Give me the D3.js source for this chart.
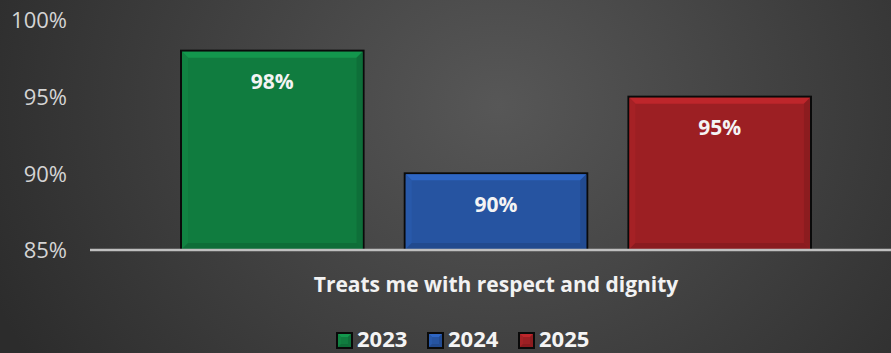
<!DOCTYPE html>
<html>
<head>
<meta charset="utf-8">
<script src="https://cdn.jsdelivr.net/npm/d3@7"></script>
<style>
  html, body { margin: 0; padding: 0; background: #333; }
  svg { display: block; }
</style>
</head>
<body>
<svg id="chart" width="891" height="353"></svg>
<script>
// Chart data
const categories = ["Treats me with respect and dignity"];
const series = ["2023", "2024", "2025"];
const values = [98, 90, 95];
const yTicks = [85, 90, 95, 100];
const colors = ["#107c3f", "#2654a1", "#9c1f23"];

const W = 891, H = 353;
const svg = d3.select("#chart");
const FONT = "'Open Sans', 'Noto Sans', sans-serif";

// Background radial gradient
const defs = svg.append("defs");
const bg = defs.append("radialGradient").attr("id", "bg")
  .attr("cx", "0.56").attr("cy", "0.3").attr("r", "0.62")
  .attr("gradientTransform", "translate(0.56,0.3) scale(1,2.2) translate(-0.56,-0.3)");
bg.append("stop").attr("offset", "0").attr("stop-color", "#575757");
bg.append("stop").attr("offset", "1").attr("stop-color", "#2c2c2c");
svg.append("rect").attr("width", W).attr("height", H).attr("fill", "url(#bg)");

// Scales
const plotLeft = 90, plotRight = 902, baseY = 250, topY = 20;
const y = d3.scaleLinear().domain([85, 100]).range([baseY, topY]);
const x0 = d3.scaleBand().domain(categories).range([plotLeft, plotRight])
  .paddingInner(0).paddingOuter(0.1445);
const x1 = d3.scaleBand().domain(series).range([0, x0.bandwidth()])
  .paddingInner(0.184).paddingOuter(0);

// Y axis labels
const yAxis = d3.axisLeft(y).tickValues(yTicks).tickFormat(d => d + "%").tickSize(0).tickPadding(0);
const ya = svg.append("g").attr("transform", "translate(67,0)").call(yAxis);
ya.select(".domain").remove();
ya.selectAll("text")
  .attr("fill", "#d4d4d4")
  .style("font-family", FONT)
  .style("font-size", "22px")
  .attr("dy", "0.36em");

// Bevelled bar drawing helper
function bevelBar(g, x, yTop, w, h, color, b) {
  const c = d3.color(color);
  g.append("rect").attr("x", x).attr("y", yTop).attr("width", w).attr("height", h)
    .attr("fill", color).attr("stroke", "#0a0a0a").attr("stroke-width", 2);
  const x2 = x + w, y2 = yTop + h;
  // top bevel (light)
  g.append("polygon")
    .attr("points", [[x + 1, yTop + 1], [x2 - 1, yTop + 1], [x2 - 1 - b, yTop + 1 + b], [x + 1 + b, yTop + 1 + b]].join(" "))
    .attr("fill", c.brighter(0.55));
  // left bevel
  g.append("polygon")
    .attr("points", [[x + 1, yTop + 1], [x + 1 + b, yTop + 1 + b], [x + 1 + b, y2 - 1 - b], [x + 1, y2 - 1]].join(" "))
    .attr("fill", c.brighter(0.15));
  // right bevel
  g.append("polygon")
    .attr("points", [[x2 - 1, yTop + 1], [x2 - 1 - b, yTop + 1 + b], [x2 - 1 - b, y2 - 1 - b], [x2 - 1, y2 - 1]].join(" "))
    .attr("fill", c.darker(0.3));
  // bottom bevel
  g.append("polygon")
    .attr("points", [[x + 1, y2 - 1], [x + 1 + b, y2 - 1 - b], [x2 - 1 - b, y2 - 1 - b], [x2 - 1, y2 - 1]].join(" "))
    .attr("fill", c.darker(0.35));
}

// Bars
const barsG = svg.append("g");
categories.forEach((cat) => {
  series.forEach((s, i) => {
    const bx = x0(cat) + x1(s);
    const by = y(values[i]);
    bevelBar(barsG, bx, by, x1.bandwidth(), baseY - by, colors[i], 6);
    barsG.append("text")
      .attr("x", bx + x1.bandwidth() / 2)
      .attr("y", by + 31)
      .attr("dy", "0.36em")
      .attr("text-anchor", "middle")
      .attr("fill", "#f4f4f4")
      .style("font-family", FONT)
      .style("font-weight", "700")
      .style("font-size", "21px")
      .text(values[i] + "%");
  });
});

// Category axis line
svg.append("line")
  .attr("x1", plotLeft).attr("x2", W)
  .attr("y1", baseY).attr("y2", baseY)
  .attr("stroke", "#bfbfbf").attr("stroke-width", 2.5);

// Category label
categories.forEach(cat => {
  svg.append("text")
    .attr("x", x0(cat) + x0.bandwidth() / 2)
    .attr("y", 284)
    .attr("dy", "0.36em")
    .attr("text-anchor", "middle")
    .attr("fill", "#f2f2f2")
    .style("font-family", FONT)
    .style("font-weight", "700")
    .style("font-size", "21px")
    .text(cat);
});

// Legend
const legendX = [337, 428, 519];
const legend = svg.append("g");
series.forEach((s, i) => {
  const lx = legendX[i];
  bevelBar(legend, lx, 333, 15, 15, colors[i], 3);
  legend.append("text")
    .attr("x", lx + 20)
    .attr("y", 347)
    .attr("fill", "#f4f4f4")
    .style("font-family", FONT)
    .style("font-weight", "700")
    .style("font-size", "22px")
    .text(s);
});
</script>
</body>
</html>
